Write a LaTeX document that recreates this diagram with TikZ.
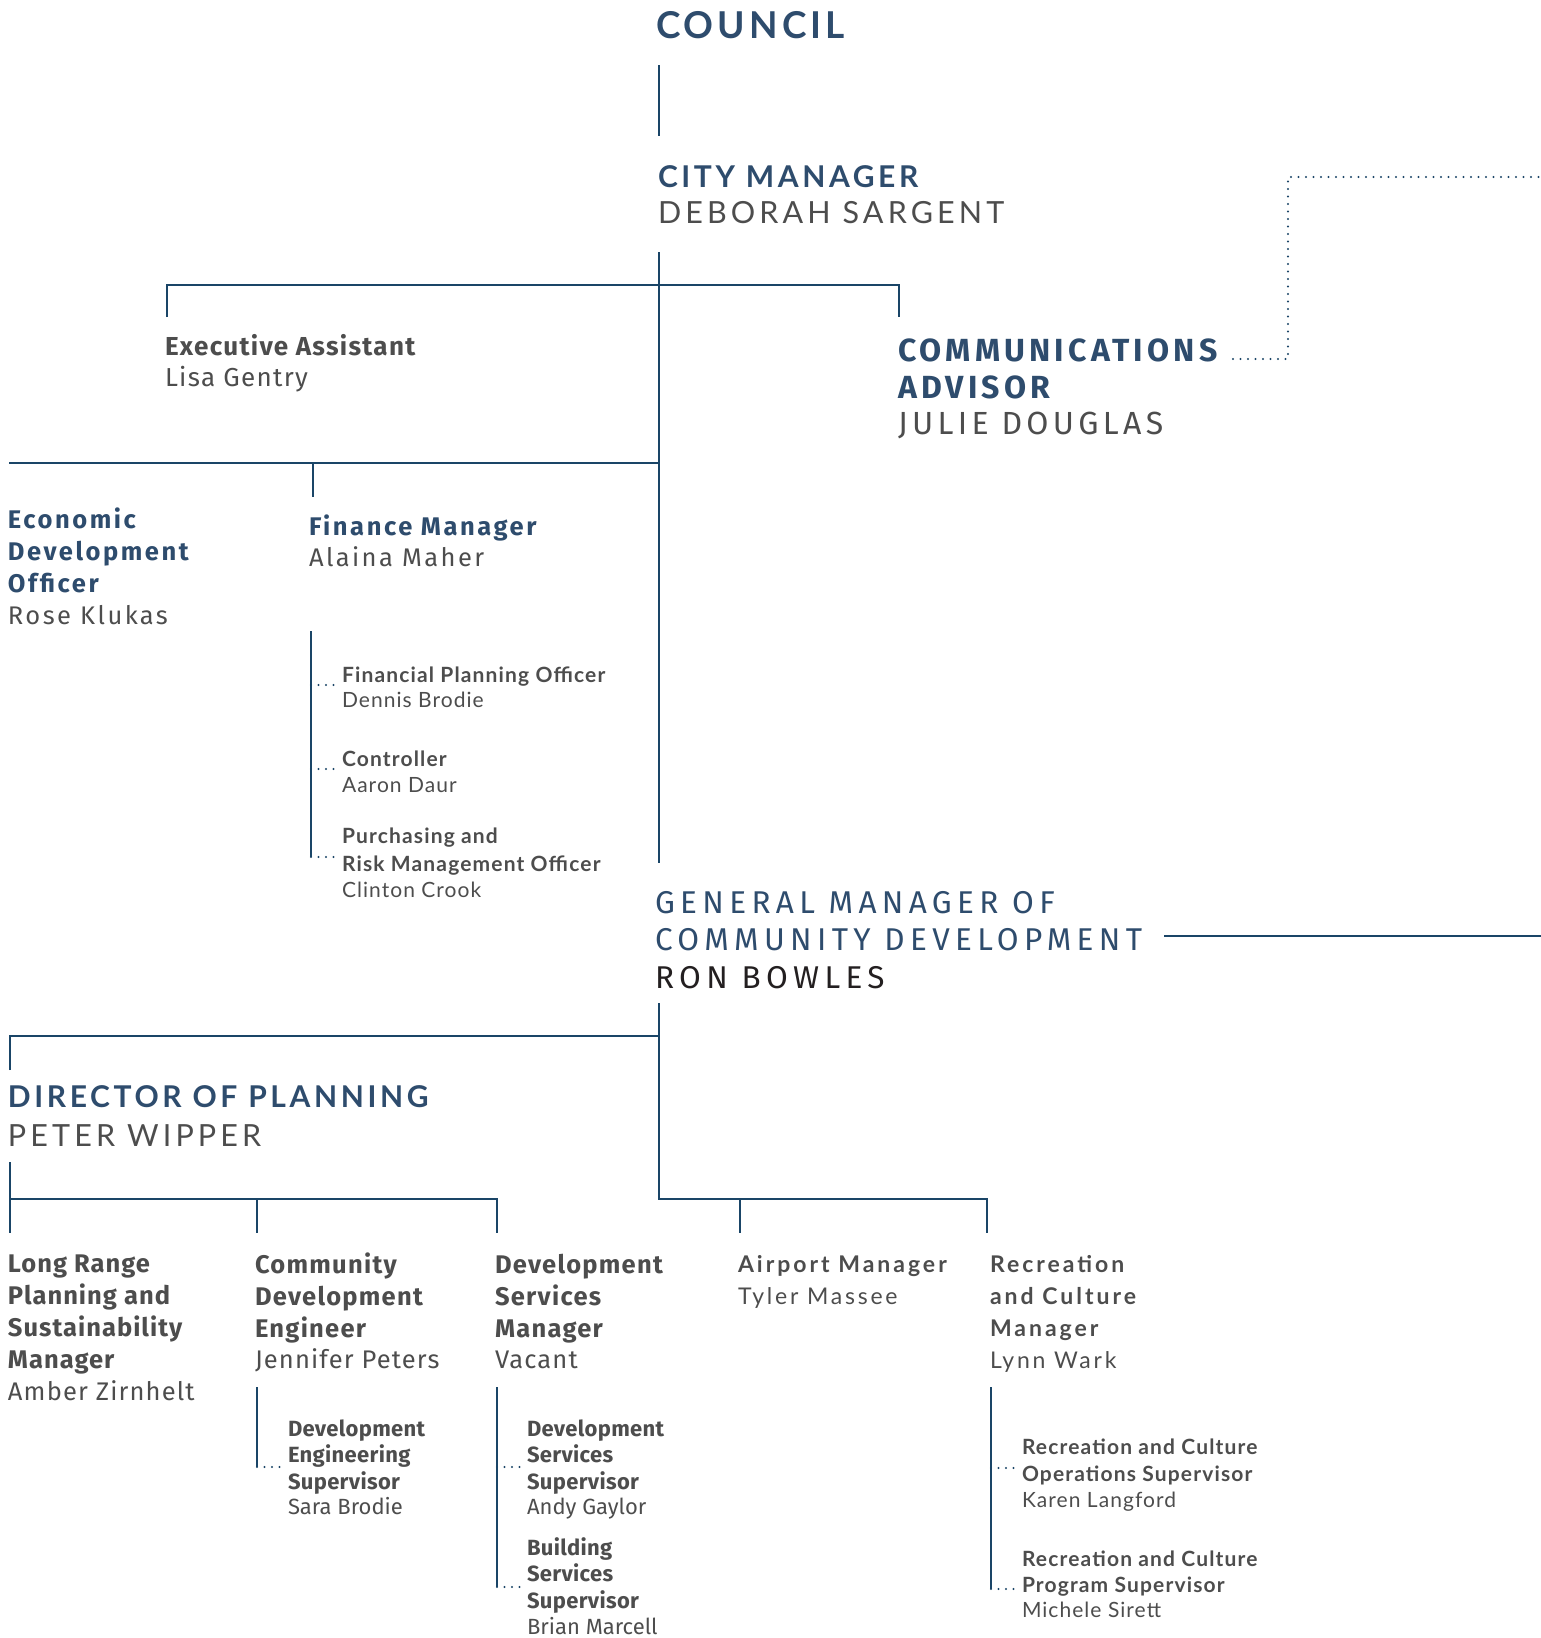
\documentclass[tikz,border=0pt]{standalone}
\usepackage{fontspec}
\setmainfont{Lato}
\newfontfamily\lat{Lato}
\newfontfamily\fir{Fira Sans}
\definecolor{ttl}{HTML}{2E4C6D}
\definecolor{nm}{HTML}{4D4D4D}
\definecolor{ln}{HTML}{1A4567}
\definecolor{dk}{HTML}{231F20}
\tikzset{
  txt/.style={anchor=base west, inner sep=0pt, outer sep=0pt, align=left},
  orgline/.style={draw=ln, line width=2.6pt},
  dotline/.style={draw=ln, line width=2.4pt, line cap=round, dash pattern=on 0pt off 7.5pt},
  bigL/.style={txt, font=\lat\bfseries\fontsize{37}{44}\selectfont\addfontfeatures{LetterSpace=11}, text=ttl},
  hdT/.style={txt, font=\lat\bfseries\fontsize{30}{36}\selectfont\addfontfeatures{LetterSpace=12}, text=ttl},
  hdN/.style={txt, font=\lat\fontsize{30.5}{36}\selectfont\addfontfeatures{LetterSpace=13.5}, text=nm},
  coT/.style={txt, font=\fir\bfseries\fontsize{32}{37}\selectfont\addfontfeatures{LetterSpace=13}, text=ttl},
  coN/.style={txt, font=\fir\fontsize{32}{37}\selectfont\addfontfeatures{LetterSpace=13.5}, text=nm},
  gmT/.style={txt, font=\fir\fontsize{31.5}{37}\selectfont\addfontfeatures{LetterSpace=17}, text=ttl},
  gmN/.style={txt, font=\fir\fontsize{31.5}{37}\selectfont\addfontfeatures{LetterSpace=17}, text=dk},
  mdT/.style={txt, font=\fir\bfseries\fontsize{25.5}{32}\selectfont\addfontfeatures{LetterSpace=10}, text=ttl},
  mdN/.style={txt, font=\fir\fontsize{25.5}{32}\selectfont\addfontfeatures{LetterSpace=9.5}, text=nm},
  eaT/.style={txt, font=\fir\bfseries\fontsize{26}{32}\selectfont\addfontfeatures{LetterSpace=5}, text=nm},
  eaN/.style={txt, font=\fir\fontsize{26}{32}\selectfont\addfontfeatures{LetterSpace=5}, text=nm},
  fbT/.style={txt, font=\fir\bfseries\fontsize{25.5}{31.7}\selectfont\addfontfeatures{LetterSpace=5}, text=nm},
  fbN/.style={txt, font=\fir\fontsize{25.5}{31.7}\selectfont\addfontfeatures{LetterSpace=4.5}, text=nm},
  lbT/.style={txt, font=\lat\bfseries\fontsize{23}{32}\selectfont\addfontfeatures{LetterSpace=13}, text=nm},
  lbN/.style={txt, font=\lat\fontsize{23}{32}\selectfont\addfontfeatures{LetterSpace=12}, text=nm},
  fsT/.style={txt, font=\fir\bfseries\fontsize{22}{26.5}\selectfont\addfontfeatures{LetterSpace=1.5}, text=nm},
  fsN/.style={txt, font=\fir\fontsize{22}{26.5}\selectfont, text=nm},
  lsT/.style={txt, font=\lat\bfseries\fontsize{21}{27}\selectfont\addfontfeatures{LetterSpace=5.5}, text=nm},
  lsN/.style={txt, font=\lat\fontsize{21}{27}\selectfont\addfontfeatures{LetterSpace=5}, text=nm},
}
\begin{document}
\begin{tikzpicture}[x=1pt,y=-1pt]
\useasboundingbox[fill=white] (0,0) rectangle (1541,1638);
% ---------- text (anchor = baseline of last line) ----------
\node[bigL] (council) at (656,38.7) {COUNCIL};
\node[hdT] (cmT) at (658,187) {CITY MANAGER};
\node[hdN] (cmN) at (658,223.5) {DEBORAH SARGENT};
\node[eaT] (eaT) at (165,355) {Executive Assistant};
\node[eaN] (eaN) at (165,386.7) {Lisa Gentry};
\node[coT] (coT) at (898,398) {COMMUNICATIONS\\ADVISOR};
\node[coN] (coN) at (898,434.5) {JULIE DOUGLAS};
\node[mdT] (edT) at (8,592.5) {Economic\\Development\\Officer};
\node[mdN] (edN) at (8,624.5) {Rose Klukas};
\node[mdT] (fmT) at (309,535) {Finance Manager};
\node[mdN] (fmN) at (309,566.5) {Alaina Maher};
\node[lsT] (fpT) at (342,682) {Financial Planning Officer};
\node[lsN] (fpN) at (342,707) {Dennis Brodie};
\node[lsT] (ctT) at (342,766) {Controller};
\node[lsN] (ctN) at (342,792) {Aaron Daur};
\node[lsT, font=\lat\bfseries\fontsize{21}{28}\selectfont\addfontfeatures{LetterSpace=5.5}] (prT) at (342,871) {Purchasing and\\Risk Management Officer};
\node[lsN] (prN) at (342,897) {Clinton Crook};
\node[gmT] (gmT) at (655,950) {GENERAL MANAGER OF\\COMMUNITY DEVELOPMENT};
\node[gmN] (gmN) at (655,988) {RON BOWLES};
\node[hdT] (dpT) at (8,1107.5) {DIRECTOR OF PLANNING};
\node[hdN] (dpN) at (8,1146) {PETER WIPPER};
\node[fbT, font=\fir\bfseries\fontsize{25.5}{31.7}\selectfont\addfontfeatures{LetterSpace=4}] (lrT) at (8,1368) {Long Range\\Planning and\\Sustainability\\Manager};
\node[fbN] (lrN) at (8,1400) {Amber Zirnhelt};
\node[fbT] (cdT) at (255,1337) {Community\\Development\\Engineer};
\node[fbN] (cdN) at (255,1368) {Jennifer Peters};
\node[fbT] (dsT) at (495,1337) {Development\\Services\\Manager};
\node[fbN] (dsN) at (495,1368) {Vacant};
\node[lbT] (amT) at (738,1272) {Airport Manager};
\node[lbN] (amN) at (738,1304) {Tyler Massee};
\node[lbT] (rcT) at (990,1336) {Recreation\\and Culture\\Manager};
\node[lbN] (rcN) at (990,1368) {Lynn Wark};
\node[fsT] (deT) at (288,1489) {Development\\Engineering\\Supervisor};
\node[fsN] (deN) at (288,1514) {Sara Brodie};
\node[fsT] (dssT) at (527,1489) {Development\\Services\\Supervisor};
\node[fsN] (dssN) at (527,1514) {Andy Gaylor};
\node[fsT] (bsT) at (527,1608) {Building\\Services\\Supervisor};
\node[fsN] (bsN) at (527,1634) {Brian Marcell};
\node[lsT] (roT) at (1022,1481) {Recreation and Culture\\Operations Supervisor};
\node[lsN] (roN) at (1022,1507) {Karen Langford};
\node[lsT, font=\lat\bfseries\fontsize{21}{26}\selectfont\addfontfeatures{LetterSpace=5.5}] (rpT) at (1022,1592) {Recreation and Culture\\Program Supervisor};
\node[lsN] (rpN) at (1022,1617) {Michele Sirett};
% ---------- coordinates ----------
\coordinate (c1) at (659,65);   \coordinate (c2) at (659,136);
\coordinate (m1) at (659,252);  \coordinate (m2) at (659,863);
\coordinate (jA) at (659,285);  \coordinate (eaL) at (167,285); \coordinate (eaB) at (167,317);
\coordinate (coR) at (899,285); \coordinate (coB) at (899,317);
\coordinate (jB) at (659,463);  \coordinate (edL) at (9,463);
\coordinate (fmJ) at (313,463); \coordinate (fmB) at (313,497);
\coordinate (f1) at (311,631);  \coordinate (f2) at (311,857);
\coordinate (f1a) at (311,685); \coordinate (f1b) at (334,685);
\coordinate (f2a) at (311,769); \coordinate (f2b) at (334,769);
\coordinate (f3b) at (334,857);
\coordinate (d1) at (1233,359); \coordinate (d2) at (1288,359);
\coordinate (d3) at (1288,177); \coordinate (d4) at (1541,177);
\coordinate (g1) at (1164,936); \coordinate (g2) at (1541,936);
\coordinate (n1) at (659,1003); \coordinate (n2) at (659,1199);
\coordinate (jC) at (659,1036); \coordinate (dpL) at (10,1036); \coordinate (dpB) at (10,1070);
\coordinate (amJ) at (740,1199); \coordinate (amB) at (740,1233);
\coordinate (rcJ) at (987,1199); \coordinate (rcB) at (987,1233);
\coordinate (p1) at (10,1162);  \coordinate (pJ) at (10,1199); \coordinate (p2) at (10,1233);
\coordinate (cdJ) at (257,1199); \coordinate (cdB) at (257,1233);
\coordinate (dsJ) at (497,1199); \coordinate (dsB) at (497,1233);
\coordinate (s1) at (257,1387); \coordinate (s2) at (257,1467); \coordinate (s2b) at (281,1467);
\coordinate (t1) at (497,1387); \coordinate (t2) at (497,1587);
\coordinate (t3a) at (497,1467); \coordinate (t3b) at (521,1467); \coordinate (t2b) at (521,1587);
\coordinate (r1) at (991,1387); \coordinate (r2) at (991,1589);
\coordinate (r3a) at (991,1468); \coordinate (r3b) at (1015,1468); \coordinate (r2b) at (1015,1589);
% ---------- connectors ----------
\draw[orgline] (c1) -- (c2);
\draw[orgline] (m1) -- (m2);
\draw[orgline] (eaB) -- (eaL) -- (coR) -- (coB);
\draw[orgline] (edL) -- (jB);
\draw[orgline] (fmJ) -- (fmB);
\draw[orgline] (f1) -- (f2);
\draw[dotline] (f1a) -- (f1b);
\draw[dotline] (f2a) -- (f2b);
\draw[dotline] (f2) -- (f3b);
\draw[dotline] (d1) -- (d2) -- (d3) -- (d4);
\draw[orgline] (g1) -- (g2);
\draw[orgline] (n1) -- (n2) -- (rcJ) -- (rcB);
\draw[orgline] (amJ) -- (amB);
\draw[orgline] (dpB) -- (dpL) -- (jC);
\draw[orgline] (p1) -- (p2);
\draw[orgline] (pJ) -- (dsJ) -- (dsB);
\draw[orgline] (cdJ) -- (cdB);
\draw[orgline] (s1) -- (s2);
\draw[dotline] (s2) -- (s2b);
\draw[orgline] (t1) -- (t2);
\draw[dotline] (t3a) -- (t3b);
\draw[dotline] (t2) -- (t2b);
\draw[orgline] (r1) -- (r2);
\draw[dotline] (r3a) -- (r3b);
\draw[dotline] (r2) -- (r2b);
\end{tikzpicture}
\end{document}
